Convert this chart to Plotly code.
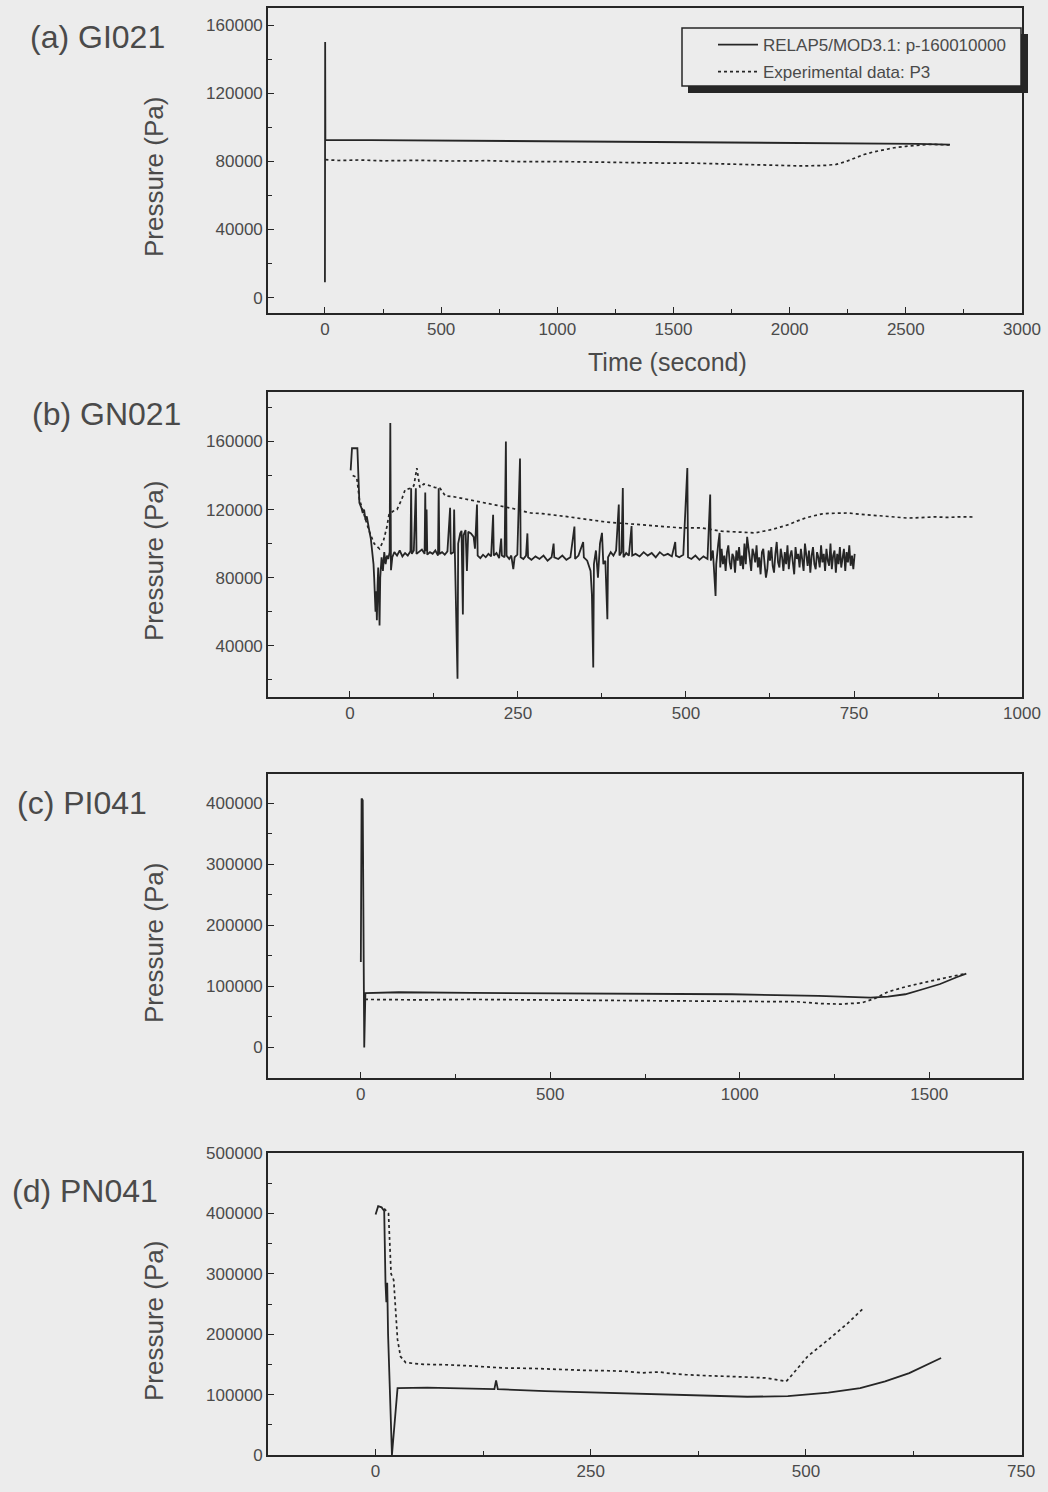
import plotly.graph_objects as go

# ---------------- data ----------------
# (a) GI021
a_sim_t = [0, 1, 2, 200, 400, 600, 900, 1200, 1500, 1800, 2100, 2400, 2550, 2690]
a_sim_p = [9000, 150000, 92500, 92500, 92300, 92200, 92000, 91800, 91500, 91200, 91000, 90600, 90300, 89800]
a_exp_t = [2, 60, 150, 250, 400, 550, 700, 850, 1000, 1150, 1300, 1450, 1600, 1750, 1850, 1950, 2050,
           2150, 2200, 2240, 2280, 2320, 2360, 2400, 2450, 2500, 2550, 2600, 2650, 2690]
a_exp_p = [81000, 80500, 80800, 80300, 80600, 80200, 80400, 79800, 79900, 79500, 79300, 79000, 78900,
           78400, 78000, 77800, 77300, 77600, 78200, 79800, 82000, 84000, 85500, 86800, 88000, 88800,
           89500, 90000, 89800, 89600]

# (b) GN021  (time, pressure) pairs, first 550 s
b_sim = [(1, 143000), (3, 156000), (11, 156000), (13, 140000), (14, 124000), (17, 121000), (19, 118000),
         (21, 120000), (23, 114000), (25, 116000), (27, 110000), (29, 107000), (31, 103000), (33, 97000),
         (35, 88000), (36, 80000), (37, 68000), (38, 60000), (39, 72000), (40, 55000), (41, 75000),
         (42, 86000), (43, 70000), (44, 52000), (45, 80000), (47, 92000), (49, 84000), (51, 95000),
         (53, 88000), (55, 93000), (57, 91000), (59, 95000), (60, 170800), (61, 84400), (63, 92000),
         (66, 95000), (70, 93000), (74, 96000), (78, 92500), (82, 94500), (86, 93000), (90, 95500),
         (91, 132500), (92, 94000), (95, 96000), (98, 132500), (99, 94000), (103, 95000), (107, 96500),
         (111, 94000), (112, 130000), (113, 95500), (114, 120000), (115, 93500), (119, 95000), (123, 94000),
         (127, 96000), (131, 93000), (132, 132500), (133, 94000), (137, 95000), (141, 93500), (145, 95500),
         (149, 121000), (150, 94000), (154, 95000), (155, 120000), (156, 96000), (160, 20700), (161, 100000),
         (164, 106000), (166, 107500), (168, 58400), (169, 105000), (172, 108000), (174, 84000), (176, 107000),
         (180, 106000), (184, 104000), (186, 97000), (189, 123000), (190, 93000), (194, 91500), (198, 93500),
         (202, 92000), (206, 94000), (210, 92500), (213, 117000), (214, 93000), (218, 94500), (222, 91500),
         (225, 103000), (226, 93000), (230, 92000), (232, 160000), (233, 93000), (237, 91000), (240, 93000),
         (243, 85000), (245, 92000), (249, 93500), (253, 150000), (254, 92000), (258, 91000), (262, 93000),
         (264, 106000), (265, 92000), (270, 90500), (276, 92500), (282, 91000), (288, 93000), (294, 90000),
         (300, 92000), (303, 100000), (304, 92000), (310, 91000), (316, 93000), (322, 90500), (328, 92000),
         (334, 110000), (335, 91000), (340, 93000), (347, 101000), (348, 92000), (353, 90000), (358, 84000),
         (360, 70000), (362, 27300), (363, 88000), (366, 96000), (369, 80000), (372, 100000), (375, 106300),
         (377, 88000), (380, 90000), (383, 55600), (384, 92000), (388, 95000), (392, 93000), (396, 96000),
         (400, 123000), (401, 93000), (404, 95000), (406, 132700), (407, 92000), (411, 94500), (415, 93000),
         (419, 110300), (420, 93000), (425, 94000), (431, 92500), (437, 95000), (443, 93000), (449, 94500),
         (455, 92000), (461, 95000), (467, 93000), (473, 94000), (479, 92500), (484, 101000), (485, 93000),
         (490, 92000), (496, 93500), (502, 144400), (503, 92000), (508, 91000), (514, 93000), (520, 90500),
         (526, 92500), (532, 91000), (536, 128800), (537, 90000), (540, 96000), (544, 69300), (545, 88000),
         (548, 100000), (550, 106300)]
# (b) noisy tail, sampled every 2 s from 551 s to 751 s
b_tail_t = list(range(551, 753, 2))
b_tail_p = [86000, 97000, 88000, 93000, 84000, 95000, 99000, 89000, 85000, 94000,
            92000, 83000, 96000, 90000, 98000, 87000, 93000, 85000, 100000, 88000,
            104000, 95000, 91000, 84000, 97000, 94000, 89000, 99000, 86000, 92000,
            82000, 95000, 97000, 88000, 80000, 85000, 96000, 90000, 98000, 87000,
            83000, 94000, 101000, 89000, 86000, 97000, 92000, 84000, 95000, 88000,
            99000, 85000, 93000, 96000, 87000, 82000, 98000, 91000, 94000, 86000,
            97000, 89000, 84000, 100000, 92000, 87000, 96000, 83000, 93000, 98000,
            88000, 85000, 95000, 92000, 86000, 99000, 89000, 94000, 84000, 97000,
            90000, 87000, 100000, 85000, 93000, 96000, 83000, 94000, 88000, 98000,
            86000, 92000, 97000, 84000, 95000, 89000, 99000, 87000, 93000, 85000,
            94000]
b_exp = [(4, 140000), (10, 139000), (14, 126000), (20, 118000), (28, 108000), (36, 100000), (44, 97000),
         (50, 102000), (55, 110000), (58, 117000), (64, 119000), (70, 120000), (77, 126000), (82, 131600),
         (90, 132500), (95, 134000), (99.5, 144300), (104, 133000), (110, 135000), (119, 134000),
         (126, 133000), (134, 132500), (142, 128000), (155, 127500), (169, 126400), (182, 125500),
         (194, 124400), (207, 123600), (219, 122500), (232, 121500), (244, 120500), (256, 119200),
         (269, 118000), (286, 117600), (303, 117000), (320, 116000), (335, 115200), (350, 114300),
         (366, 113200), (381, 112700), (397, 112200), (412, 111700), (428, 111200), (443, 110700),
         (459, 110200), (475, 109700), (491, 109300), (506, 109300), (522, 109300), (538, 108300),
         (553, 107300), (569, 107000), (584, 106700), (603, 106300), (615, 107300), (628, 108300),
         (640, 109700), (653, 111200), (665, 113200), (678, 115100), (690, 116300), (703, 117500),
         (715, 117800), (728, 118000), (740, 118000), (753, 117500), (772, 116800), (791, 116100),
         (810, 115500), (830, 115000), (850, 115300), (870, 115700), (890, 115400), (910, 115800),
         (930, 115600)]

# (c) PI041
c_sim = [(0, 140000), (2, 408000), (5, 405000), (7, 140000), (9, 0), (12, 89000), (100, 90500),
         (292, 89500), (635, 88800), (979, 87200), (1208, 84400), (1345, 81700), (1391, 83400),
         (1437, 87200), (1483, 95400), (1529, 104000), (1574, 115400), (1598, 121000)]
c_exp = [(11, 78700), (150, 78000), (292, 78700), (450, 78000), (635, 77600), (800, 77000), (979, 76500),
         (1100, 75800), (1151, 74900), (1208, 72100), (1265, 71000), (1322, 73200), (1357, 80300),
         (1391, 91100), (1437, 99300), (1494, 107500), (1551, 115700), (1597, 121200)]

# (d) PN041
d_sim = [(0, 398000), (3, 412000), (7, 410000), (10, 404000), (11.5, 285000), (12.5, 253000),
         (13.5, 285000), (14.5, 200000), (19, 0), (25.5, 110700), (60, 111500), (103, 110700),
         (138, 109000), (140, 123500), (142, 109000), (197, 105900), (291, 102000), (385, 97500),
         (432, 96400), (479, 97500), (526, 103100), (563, 110700), (592, 121800), (620, 135600),
         (643, 151100), (657, 160500)]
d_exp = [(10, 408000), (15, 400000), (18, 300000), (21, 290000), (23.5, 235000), (25.5, 191000),
         (29, 163000), (35, 153000), (56, 150000), (80, 149500), (110, 147500), (150, 144000),
         (180, 143500), (197, 142300), (220, 141000), (244, 140100), (270, 139500), (291, 138500),
         (310, 136000), (330, 137500), (338, 135700), (360, 133000), (385, 131300), (410, 130500),
         (432, 129000), (455, 127400), (470, 123500), (477, 121800), (484, 132900), (502, 163300),
         (526, 191000), (549, 218700), (566, 242000)]

panel_labels = ["(a) GI021", "(b) GN021", "(c) PI041", "(d) PN041"]
series_names = ["RELAP5/MOD3.1: p-160010000", "Experimental data: P3"]
x_ticks = [[0, 500, 1000, 1500, 2000, 2500, 3000], [0, 250, 500, 750, 1000],
           [0, 500, 1000, 1500], [0, 250, 500, 750]]
y_ticks = [[0, 40000, 80000, 120000, 160000], [40000, 80000, 120000, 160000],
           [0, 100000, 200000, 300000, 400000], [0, 100000, 200000, 300000, 400000, 500000]]

# ---------------- figure ----------------
W, H = 1048, 1492
BG = "#ececec"
INK = "#262626"
TXT = "#4a4a4a"
FONT = "Liberation Sans, Arial, sans-serif"

def px_x(x):
    return x / W

def px_y(y):
    return 1 - y / H

x_left, x_right = 268, 1022
panels = [  # top px, bottom px, x range, y range, minor dx, minor dy
    dict(top=8, bot=313, xr=[-245, 3000], yr=[-9000, 170000], mx=250, my=20000),
    dict(top=392, bot=697, xr=[-122, 1000], yr=[10000, 189000], mx=125, my=20000),
    dict(top=774, bot=1078, xr=[-245, 1745], yr=[-50000, 448000], mx=250, my=50000),
    dict(top=1153, bot=1455, xr=[-125, 751], yr=[0, 500000], mx=125, my=50000),
]

def unzip(pairs):
    return [p[0] for p in pairs], [p[1] for p in pairs]

b_sim_t, b_sim_p = unzip(b_sim)
data = [
    ((a_sim_t, a_sim_p), (a_exp_t, a_exp_p)),
    ((b_sim_t + b_tail_t, b_sim_p + b_tail_p), unzip(b_exp)),
    (unzip(c_sim), unzip(c_exp)),
    (unzip(d_sim), unzip(d_exp)),
]

fig = go.Figure()
layout = dict(width=W, height=H, autosize=False, margin=dict(l=0, r=0, t=0, b=0, autoexpand=False),
              paper_bgcolor=BG, plot_bgcolor=BG, font=dict(family=FONT, color=TXT),
              showlegend=True)

for i, (pn, (sim, exp)) in enumerate(zip(panels, data)):
    k = "" if i == 0 else str(i + 1)
    xa, ya = "x" + k, "y" + k
    fig.add_trace(go.Scatter(x=sim[0], y=sim[1], mode="lines", name=series_names[0],
                             line=dict(color=INK, width=1.8), xaxis=xa, yaxis=ya,
                             showlegend=(i == 0), legendgroup="sim"))
    fig.add_trace(go.Scatter(x=exp[0], y=exp[1], mode="lines", name=series_names[1],
                             line=dict(color=INK, width=1.7, dash="dot"), xaxis=xa, yaxis=ya,
                             showlegend=(i == 0), legendgroup="exp"))
    common = dict(showline=True, linecolor=INK, linewidth=1.6, mirror=True, ticks="inside",
                  ticklen=6, tickcolor=INK, tickwidth=1.2, showgrid=False, zeroline=False,
                  automargin=False, ticklabeloverflow="allow",
                  tickformat="d", tickfont=dict(family=FONT, size=17, color=TXT))
    layout["xaxis" + k] = dict(common, domain=[px_x(x_left), px_x(x_right)], range=pn["xr"],
                               anchor=ya, tickmode="array", tickvals=x_ticks[i],
                               minor=dict(dtick=pn["mx"], tick0=0, ticks="inside", ticklen=4,
                                          tickcolor=INK))
    layout["yaxis" + k] = dict(common, domain=[px_y(pn["bot"]), px_y(pn["top"])],
                               range=pn["yr"], anchor=xa, tickmode="array", tickvals=y_ticks[i],
                               minor=dict(dtick=pn["my"], tick0=0, ticks="inside", ticklen=4,
                                          tickcolor=INK))

annotations = []
label_pos = [(28, 37), (30, 414), (15, 803), (10, 1191)]
for txt, (lx, ly) in zip(panel_labels, label_pos):
    annotations.append(dict(text=txt, x=px_x(lx), y=px_y(ly), xref="paper", yref="paper",
                            xanchor="left", yanchor="middle", showarrow=False,
                            font=dict(family=FONT, size=32, color=TXT)))
ytitle_pos = [177, 561, 943, 1321]
for yy in ytitle_pos:
    annotations.append(dict(text="Pressure (Pa)", x=px_x(154), y=px_y(yy), xref="paper", yref="paper",
                            xanchor="center", yanchor="middle", textangle=-90, showarrow=False,
                            font=dict(family=FONT, size=26, color=TXT)))
annotations.append(dict(text="Time (second)", x=px_x(667), y=px_y(362), xref="paper", yref="paper",
                        xanchor="center", yanchor="middle", showarrow=False,
                        font=dict(family=FONT, size=25, color=TXT)))
layout["annotations"] = annotations

# legend frame with drop shadow
layout["shapes"] = [
    dict(type="rect", xref="paper", yref="paper", x0=px_x(688), x1=px_x(1028),
         y0=px_y(93), y1=px_y(34), fillcolor="#262626", line=dict(width=0), layer="above"),
    dict(type="rect", xref="paper", yref="paper", x0=px_x(682), x1=px_x(1021),
         y0=px_y(86), y1=px_y(28), fillcolor=BG, line=dict(color=INK, width=1.5), layer="above"),
]
layout["legend"] = dict(x=px_x(713), y=px_y(27), xanchor="left", yanchor="top",
                        bgcolor="rgba(0,0,0,0)", borderwidth=0, itemwidth=40,
                        tracegroupgap=2, font=dict(family=FONT, size=17, color=TXT))

fig.update_layout(**layout)
fig.write_html("out.html")
